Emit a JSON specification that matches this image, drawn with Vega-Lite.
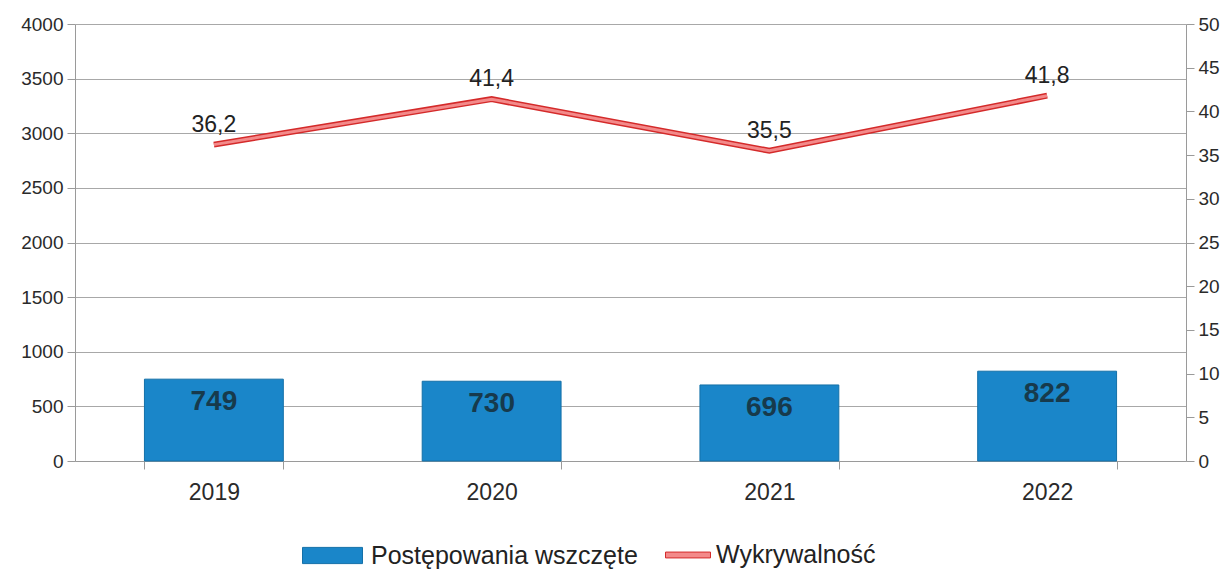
{
  "$schema": "https://vega.github.io/schema/vega-lite/v6.json",
  "width": 1111,
  "height": 437,
  "autosize": {"type": "none"},
  "padding": {"left": 75, "top": 24, "right": 41, "bottom": 108},
  "background": "white",
  "config": {
    "font": "Liberation Sans",
    "view": {"stroke": null},
    "locale": {"number": {"decimal": ",", "thousands": " ", "grouping": [3], "currency": ["", " zł"]}},
    "axis": {"labelFont": "Liberation Sans", "labelColor": "#2a2a2a", "domainColor": "#9a9a9a", "tickColor": "#9a9a9a", "gridColor": "#a8a8a8", "gridWidth": 1}
  },
  "data": {"values": [
    {"year": "2019", "cases": 749, "rate": 36.2},
    {"year": "2020", "cases": 730, "rate": 41.4},
    {"year": "2021", "cases": 696, "rate": 35.5},
    {"year": "2022", "cases": 822, "rate": 41.8}
  ]},
  "encoding": {
    "x": {"field": "year", "type": "nominal", "title": null,
      "scale": {"paddingInner": 0.5, "paddingOuter": 0.25},
      "axis": {"labelAngle": 0, "labelFontSize": 23, "labelPadding": 12, "tickBand": "extent", "tickSize": 8, "domainColor": "#9a9a9a"}}
  },
  "layer": [
    {
      "encoding": {
        "y": {"field": "cases", "type": "quantitative", "title": null,
          "scale": {"domain": [0, 4000], "nice": false},
          "axis": {"values": [0, 500, 1000, 1500, 2000, 2500, 3000, 3500, 4000], "format": "d", "labelFontSize": 19, "tickSize": 8, "labelPadding": 4, "grid": true, "domain": true, "orient": "left"}}
      },
      "layer": [
        {"mark": {"type": "bar", "stroke": "#1470a8", "strokeWidth": 1},
         "encoding": {"fill": {"datum": "Postępowania wszczęte", "type": "nominal",
           "scale": {"domain": ["Postępowania wszczęte"], "range": ["#1a86c9"]},
           "legend": {"orient": "none", "legendX": 227, "legendY": 501, "title": null,
             "padding": 0, "labelFontSize": 25, "labelLimit": 0, "labelColor": "#222", "labelOffset": 8,
             "symbolSize": 3600, "symbolType": "M-1,-0.27H1V0.27H-1Z", "symbolStrokeColor": "#1470a8", "symbolStrokeWidth": 1, "symbolOpacity": 1}}}},
        {"mark": {"type": "text", "baseline": "top", "dy": 9, "fontSize": 28, "fontWeight": "bold", "color": "#173a4c"},
         "encoding": {"text": {"field": "cases", "type": "quantitative", "format": "d"}}}
      ]
    },
    {
      "encoding": {
        "y": {"field": "rate", "type": "quantitative", "title": null,
          "scale": {"domain": [0, 50], "nice": false},
          "axis": {"values": [0, 5, 10, 15, 20, 25, 30, 35, 40, 45, 50], "labelFontSize": 19, "tickSize": 8, "labelPadding": 4, "grid": false, "orient": "right"}}
      },
      "layer": [
        {"mark": {"type": "line", "strokeWidth": 6, "strokeCap": "butt"},
         "encoding": {"stroke": {"datum": "Wykrywalność", "type": "nominal",
           "scale": {"domain": ["Wykrywalność"], "range": ["#d42a2a"]},
           "legend": {"orient": "none", "legendX": 590, "legendY": 508, "title": null,
             "padding": 0, "labelFontSize": 25, "labelLimit": 0, "labelColor": "#222", "labelOffset": 5,
             "symbolSize": 2025, "symbolType": "M-1,-0.13H1V0.13H-1Z", "symbolFillColor": "#f38a8a", "symbolStrokeWidth": 1, "symbolOpacity": 1}}}},
        {"mark": {"type": "line", "color": "#f38a8a", "strokeWidth": 3, "strokeCap": "butt"}},
        {"mark": {"type": "text", "baseline": "bottom", "dy": -8, "fontSize": 23, "color": "#222"},
         "encoding": {"text": {"field": "rate", "type": "quantitative", "format": ".1f"}}}
      ]
    }
  ],
  "resolve": {"scale": {"y": "independent"}}
}
